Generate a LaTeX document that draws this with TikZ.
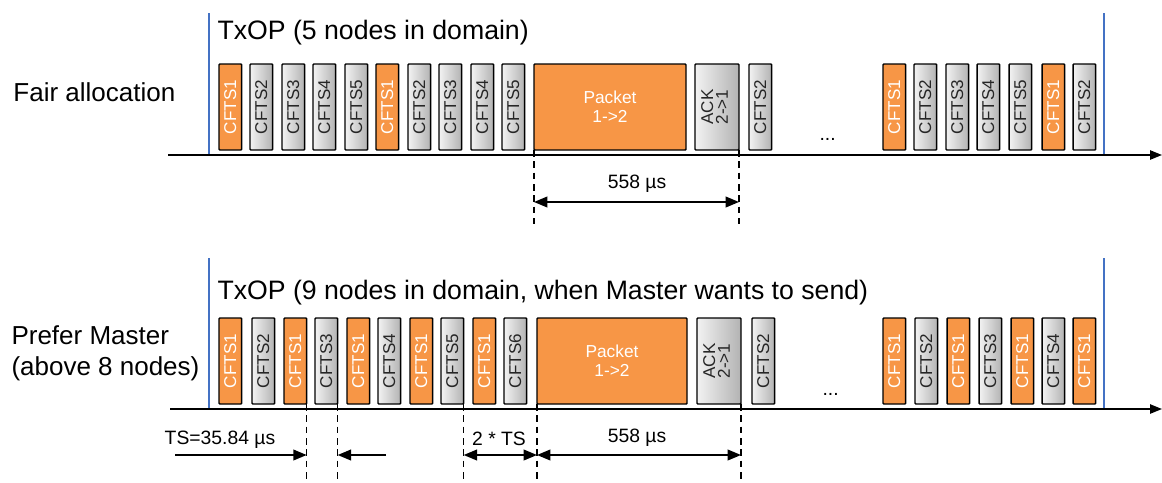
\documentclass[tikz,border=0pt]{standalone}
\usepackage{fontspec}
\setmainfont{Liberation Sans}
\usepackage{tikz}
\usetikzlibrary{arrows.meta}
\definecolor{slotorange}{RGB}{247,150,70}
\definecolor{txblue}{RGB}{68,114,196}
\newcommand{\vlbl}[1]{\rotatebox{90}{#1}}
\tikzset{every picture/.style={line width=0.75pt}}
\tikzset{
  slot/.style={draw=black, line width=1.1pt, rounded corners=0.6pt, anchor=north west, inner sep=0pt, outer sep=0pt, minimum width=17pt, minimum height=64.5pt, font=\fontsize{12.8}{13}\selectfont},
  cftsg/.style={slot, left color=black!5, right color=black!30, text=black!85},
  cftso/.style={slot, fill=slotorange, text=white},
  pkt/.style={slot, fill=slotorange, text=white, align=center, font=\fontsize{13}{14.5}\selectfont},
  ackbox/.style={cftsg, minimum width=33pt},
  timeaxis/.style={line width=1.1pt, -{Triangle[length=9pt,width=7pt]}},
  txop/.style={draw=txblue, line width=1pt},
  guide/.style={line width=1pt, dash pattern=on 5pt off 3.5pt},
  dimarrow/.style={line width=1.3pt, {Triangle[length=10pt,width=8pt]}-{Triangle[length=10pt,width=8pt]}},
  tsarrow/.style={line width=1.3pt, -{Triangle[length=10pt,width=8pt]}},
  biglbl/.style={font=\fontsize{19.5}{23}\selectfont, inner sep=0.75pt},
  titlelbl/.style={font=\fontsize{20}{24}\selectfont, inner sep=0.75pt},
  dimlbl/.style={font=\fontsize{14.5}{16}\selectfont, inner sep=0.75pt}
}

\begin{document}
\begin{tikzpicture}[x=0.75pt,y=0.75pt,yscale=-1,xscale=1]
\useasboundingbox (0,0) rectangle (1162,482);

%%%%%%%% Fair allocation %%%%%%%%
% Text Node
\draw (12,92) node (fairlbl) [biglbl, anchor=west] {Fair allocation};
% Text Node
\draw (216,33) node (ttitle) [titlelbl, anchor=west] {TxOP (5 nodes in domain)};

%Shape: Rectangle (slots before packet)
\draw (219,64) node (t1) [cftso] {\vlbl{CFTS1}};
\draw (250,64) node (t2) [cftsg] {\vlbl{CFTS2}};
\draw (282,64) node (t3) [cftsg] {\vlbl{CFTS3}};
\draw (313,64) node (t4) [cftsg] {\vlbl{CFTS4}};
\draw (345,64) node (t5) [cftsg] {\vlbl{CFTS5}};
\draw (376,64) node (t6) [cftso] {\vlbl{CFTS1}};
\draw (408,64) node (t7) [cftsg] {\vlbl{CFTS2}};
\draw (439,64) node (t8) [cftsg] {\vlbl{CFTS3}};
\draw (471,64) node (t9) [cftsg] {\vlbl{CFTS4}};
\draw (502,64) node (t10) [cftsg] {\vlbl{CFTS5}};
%Shape: Rectangle (packet + ack)
\draw (534,64) node (t11) [pkt, minimum width=114pt] {Packet\\1->2};
\draw (695,64) node (t12) [ackbox] {\vlbl{\begin{tabular}{@{}c@{}}ACK\\[-2pt]2->1\end{tabular}}};
\draw (749,64) node (t13) [cftsg] {\vlbl{CFTS2}};
% Text Node
\draw (818,140) node (tdots) [dimlbl, anchor=base west] {...};
%Shape: Rectangle (slots after gap)
\draw (883,64) node (t14) [cftso] {\vlbl{CFTS1}};
\draw (914,64) node (t15) [cftsg] {\vlbl{CFTS2}};
\draw (946,64) node (t16) [cftsg] {\vlbl{CFTS3}};
\draw (977,64) node (t17) [cftsg] {\vlbl{CFTS4}};
\draw (1009,64) node (t18) [cftsg] {\vlbl{CFTS5}};
\draw (1042,64) node (t19) [cftso] {\vlbl{CFTS1}};
\draw (1073,64) node (t20) [cftsg] {\vlbl{CFTS2}};

%Straight Lines (axis and TxOP limits)
\coordinate (tax0) at (168,155);
\coordinate (tax1) at (1162,155);
\coordinate (ttop) at (0,13);
\coordinate (tlow) at (0,224);
\coordinate (tdim) at (0,202);
\draw [txop] (tax0 -| 209,0) -- (ttop -| 209,0);
\draw [txop] (tax0 -| 1104,0) -- (ttop -| 1104,0);
\draw [timeaxis] (tax0) -- (tax1);

%Straight Lines (558 us)
\draw [guide] (t11.south west) -- (t11.south west |- tlow);
\draw [guide] (t12.south east) -- (t12.south east |- tlow);
\draw [dimarrow] (t11.south west |- tdim) -- (t12.south east |- tdim);
% Text Node
\draw (637,184) node (tpktlbl) [dimlbl] {558 µs};

%%%%%%%% Prefer Master %%%%%%%%
% Text Node
\draw (10,353) node (preflbl) [biglbl, anchor=west, align=left] {Prefer Master\\(above 8 nodes)};
% Text Node
\draw (216,293) node (btitle) [titlelbl, anchor=west] {TxOP (9 nodes in domain, when Master wants to send)};

%Shape: Rectangle (slots before packet)
\draw (219,318) node (b1) [cftso] {\vlbl{CFTS1}};
\draw (252,318) node (b2) [cftsg] {\vlbl{CFTS2}};
\draw (284,318) node (b3) [cftso] {\vlbl{CFTS1}};
\draw (315,318) node (b4) [cftsg] {\vlbl{CFTS3}};
\draw (347,318) node (b5) [cftso] {\vlbl{CFTS1}};
\draw (378,318) node (b6) [cftsg] {\vlbl{CFTS4}};
\draw (410,318) node (b7) [cftso] {\vlbl{CFTS1}};
\draw (441,318) node (b8) [cftsg] {\vlbl{CFTS5}};
\draw (473,318) node (b9) [cftso] {\vlbl{CFTS1}};
\draw (504,318) node (b10) [cftsg] {\vlbl{CFTS6}};
%Shape: Rectangle (packet + ack)
\draw (537,318) node (b11) [pkt, minimum width=112.5pt] {Packet\\1->2};
\draw (697,318) node (b12) [ackbox] {\vlbl{\begin{tabular}{@{}c@{}}ACK\\[-2pt]2->1\end{tabular}}};
\draw (752,318) node (b13) [cftsg] {\vlbl{CFTS2}};
% Text Node
\draw (821,395) node (bdots) [dimlbl, anchor=base west] {...};
%Shape: Rectangle (slots after gap)
\draw (883,318) node (b14) [cftso] {\vlbl{CFTS1}};
\draw (915,318) node (b15) [cftsg] {\vlbl{CFTS2}};
\draw (947,318) node (b16) [cftso] {\vlbl{CFTS1}};
\draw (979,318) node (b17) [cftsg] {\vlbl{CFTS3}};
\draw (1011,318) node (b18) [cftso] {\vlbl{CFTS1}};
\draw (1042,318) node (b19) [cftsg] {\vlbl{CFTS4}};
\draw (1073,318) node (b20) [cftso] {\vlbl{CFTS1}};

%Straight Lines (axis and TxOP limits)
\coordinate (bax0) at (170,409);
\coordinate (bax1) at (1162,409);
\coordinate (btop) at (0,258);
\coordinate (blow) at (0,482);
\coordinate (bdim) at (0,455);
\draw [txop] (bax0 -| 209,0) -- (btop -| 209,0);
\draw [txop] (bax0 -| 1104,0) -- (btop -| 1104,0);
\draw [timeaxis] (bax0) -- (bax1);

%Straight Lines (guides)
\draw [guide] (b3.south east) -- (b3.south east |- blow);
\draw [guide] (b4.south east) -- (b4.south east |- blow);
\draw [guide] (b8.south east) -- (b8.south east |- blow);
\draw [guide] (b11.south west) -- (b11.south west |- blow);
\draw [guide] (b12.south east) -- (b12.south east |- blow);

%Straight Lines (TS)
\coordinate (tsl) at (175,455);
\coordinate (tsr) at (386,455);
\draw [tsarrow] (tsl) -- (b3.south east |- bdim);
\draw [tsarrow] (tsr) -- (b4.south east |- bdim);
% Text Node
\draw (220,440) node (tslbl) [dimlbl] {TS=35.84 µs};

%Straight Lines (2 * TS)
\draw [dimarrow] (b8.south east |- bdim) -- (b11.south west |- bdim);
% Text Node
\draw (499,439) node (ts2lbl) [dimlbl] {2 * TS};

%Straight Lines (558 us)
\draw [dimarrow] (b11.south west |- bdim) -- (b12.south east |- bdim);
% Text Node
\draw (637,438) node (bpktlbl) [dimlbl] {558 µs};

\end{tikzpicture}
\end{document}
